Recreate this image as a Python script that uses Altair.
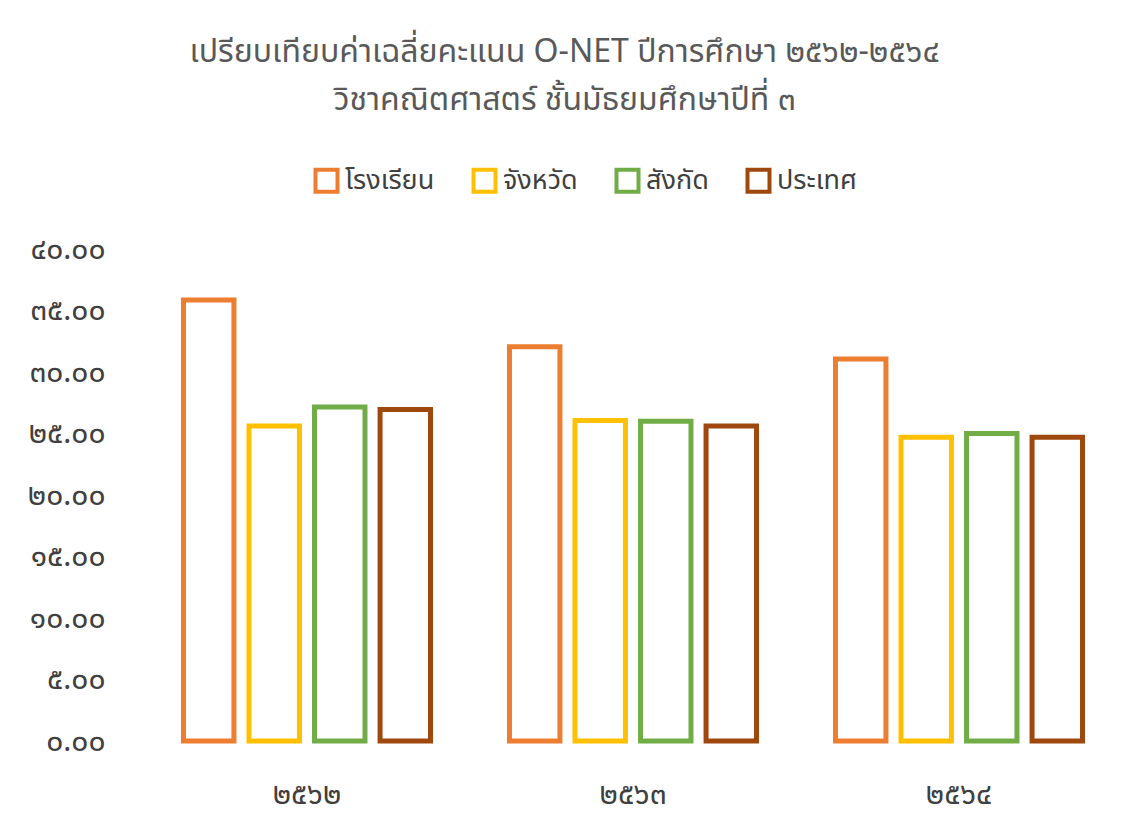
import altair as alt
import pandas as pd

years = ["๒๕๖๒", "๒๕๖๓", "๒๕๖๔"]
series = ["โรงเรียน", "จังหวัด", "สังกัด", "ประเทศ"]
school = [35.85, 32.05, 31.05]
province = [25.60, 26.05, 24.70]
affiliation = [27.15, 26.00, 25.00]
country = [26.95, 25.60, 24.70]
colors = ["#ED7D31", "#FFC000", "#70AD47", "#9E480E"]
tick_values = [0, 5, 10, 15, 20, 25, 30, 35, 40]
tick_labels = ["๐.๐๐", "๕.๐๐", "๑๐.๐๐", "๑๕.๐๐", "๒๐.๐๐", "๒๕.๐๐", "๓๐.๐๐", "๓๕.๐๐", "๔๐.๐๐"]
title_lines = ["เปรียบเทียบค่าเฉลี่ยคะแนน  O-NET ปีการศึกษา ๒๕๖๒-๒๕๖๔",
               "วิชาคณิตศาสตร์  ชั้นมัธยมศึกษาปีที่ ๓"]

rows = []
for name, vals in zip(series, [school, province, affiliation, country]):
    for y, v in zip(years, vals):
        rows.append({"year": y, "series": name, "value": v})
df = pd.DataFrame(rows)

label_expr = "''"
for v, l in zip(tick_values, tick_labels):
    label_expr = f"datum.value == {v} ? '{l}' : ({label_expr})"

FONT = "Noto Sans Thai, Tahoma, Noto Sans, sans-serif"

chart = alt.Chart(df).mark_bar(filled=False, strokeWidth=5, fill="white").encode(
    x=alt.X("year:N", sort=years, title=None,
            scale=alt.Scale(paddingInner=0.196, paddingOuter=0.098),
            axis=alt.Axis(labelAngle=0, domain=False, ticks=False, labelPadding=38,
                          labelFontSize=30, labelColor="#404040", labelFont=FONT,
                          labelFontWeight="normal")),
    xOffset=alt.XOffset("series:N", sort=series,
                        scale=alt.Scale(paddingInner=0.23, paddingOuter=0.115)),
    y=alt.Y("value:Q", title=None,
            scale=alt.Scale(domain=[0, 40], nice=False),
            axis=alt.Axis(values=tick_values, labelExpr=label_expr, domain=False, ticks=False,
                          grid=False, labelPadding=39, labelFontSize=30, labelColor="#404040",
                          labelFont=FONT, labelFontWeight="normal")),
    stroke=alt.Stroke("series:N", sort=series,
                      scale=alt.Scale(domain=series, range=colors),
                      legend=alt.Legend(title=None, orient="none", direction="horizontal",
                                        legendX=169, legendY=-82, symbolType="square",
                                        symbolSize=484, symbolStrokeWidth=4,
                                        symbolFillColor="white",
                                        labelFontSize=27, labelColor="#404040", labelFont=FONT,
                                        columnPadding=30, labelOffset=5)),
).properties(
    width=978, height=492,
    autosize=alt.AutoSizeParams(type="none"),
    padding={"left": 136, "top": 241, "right": 18, "bottom": 76},
    title=alt.TitleParams(text=title_lines, fontSize=32, font=FONT, color="#595959",
                          fontWeight="normal", anchor="middle", frame="bounds",
                          lineHeight=48, offset=50, dx=-10),
).configure(background="white").configure_view(stroke=None)

chart.save("out.html", embed_options={"renderer": "svg", "actions": False})
